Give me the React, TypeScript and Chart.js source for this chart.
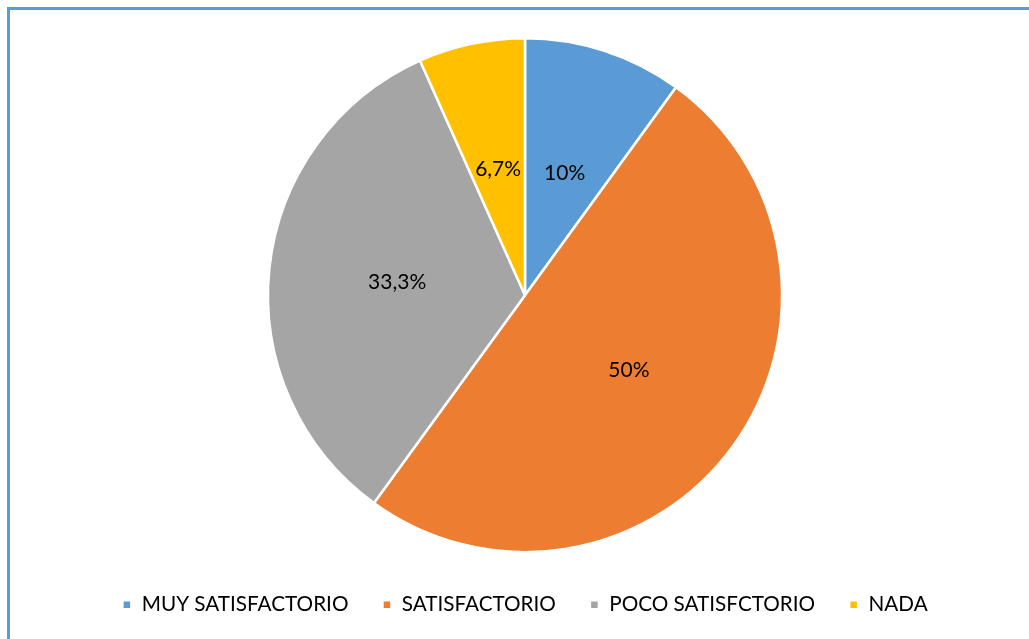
import React, { useEffect, useRef } from "react";
import { Chart, registerables } from "chart.js";

Chart.register(...registerables);

const categories = ["MUY SATISFACTORIO", "SATISFACTORIO", "POCO SATISFCTORIO", "NADA"];
const values = [10, 50, 33.3, 6.7];
const colors = ["#5B9BD5", "#ED7D31", "#A5A5A5", "#FFC000"];
const FONT = "Lato, 'Open Sans', sans-serif";

const labelPlugin = {
  id: "sliceLabels",
  afterDatasetsDraw(chart: any) {
    const ctx = chart.ctx;
    const meta = chart.getDatasetMeta(0);
    ctx.save();
    ctx.font = `21px ${FONT}`;
    ctx.fillStyle = "#000000";
    ctx.textAlign = "center";
    ctx.textBaseline = "middle";
    meta.data.forEach((el: any, i: number) => {
      const p = el.tooltipPosition();
      const txt = String(values[i]).replace(".", ",") + "%";
      ctx.fillText(txt, p.x, p.y);
    });
    ctx.restore();
  },
};

export default function App() {
  const ref = useRef<HTMLCanvasElement>(null);
  useEffect(() => {
    if (!ref.current) return;
    const chart = new Chart(ref.current, {
      type: "pie",
      data: {
        labels: categories,
        datasets: [
          {
            data: values,
            backgroundColor: colors,
            borderColor: "#ffffff",
            borderWidth: 2.5,
            radius: 257,
          },
        ],
      },
      options: {
        animation: false,
        responsive: false,
        layout: { padding: { top: 30, left: 21, right: 0, bottom: 14 } },
        plugins: {
          tooltip: { enabled: false },
          legend: {
            position: "bottom",
            labels: {
              boxWidth: 9,
              boxHeight: 9,
              padding: 34,
              color: "#000000",
              font: { family: FONT, size: 20.7 },
            },
          },
        },
      },
      plugins: [labelPlugin],
    });
    return () => chart.destroy();
  }, []);
  return (
    <div
      style={{
        position: "fixed",
        left: 0,
        top: 0,
        width: 1029,
        height: 639,
        overflow: "hidden",
        background: "#ffffff",
      }}
    >
      <canvas ref={ref} width={1029} height={639} style={{ position: "absolute", left: 0, top: 0 }} />
      <div
        style={{
          position: "absolute",
          left: 7,
          top: 7,
          width: 1100,
          height: 700,
          borderTop: "3px solid #5B9BD5",
          borderLeft: "3px solid #5B9BD5",
          pointerEvents: "none",
        }}
      />
    </div>
  );
}
